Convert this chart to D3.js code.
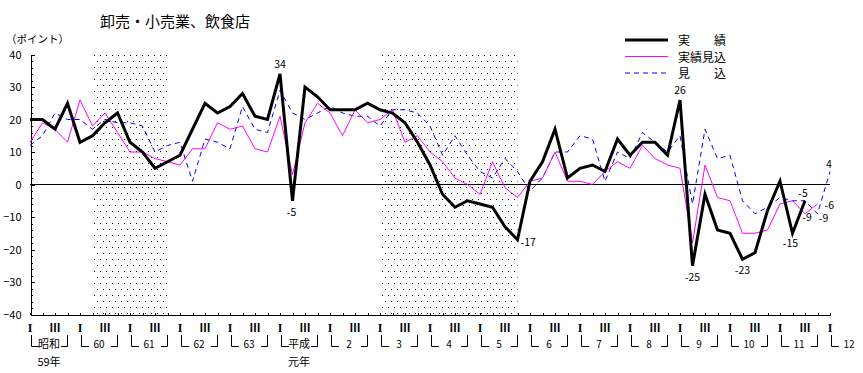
<!DOCTYPE html>
<meta charset="utf-8">
<body style="margin:0;background:#fff">
<script src="https://cdn.jsdelivr.net/npm/d3@7"></script>
<style>
svg { display:block; }
text { font-family: "Noto Sans CJK JP", "DejaVu Sans", sans-serif; fill:#000; }
.axis path, .axis line { stroke:#000; shape-rendering:crispEdges; }
</style>
<svg id="chart" width="863" height="373"></svg>
<script>
// quarterly DI, index 0 = 昭和59年 I期, 64 = 平成12年 I期
var yearLabels = ["昭和", "60", "61", "62", "63", "平成", "2", "3", "4", "5", "6", "7", "8", "9", "10", "11", "12"]
var yearSubLabels = ["59年", "", "", "", "", "元年"]
var yTicks = [40, 30, 20, 10, 0, -10, -20, -30, -40]

var jisseki = [20, 20, 17, 25, 13, 15, 19, 22, 13, 10, 5, 7, 9, 17, 25, 22,
  24, 28, 21, 20, 34, -5, 30, 27, 23, 23, 23, 25, 23, 22, 19, 13,
  6, -3, -7, -5, -6, -7, -13, -17, 1, 7, 17, 2, 5, 6, 4, 14,
  9, 13, 13, 9, 26, -25, -3, -14, -15, -23, -21, -8, 1, -15, -5]

var jissekiMikomi = [13, 19, 17, 13, 26, 18, 22, 16, 10, 10, 8, 7, 6, 11, 11, 19,
  17, 18, 11, 10, 21, 3, 19, 25, 22, 15, 23, 19, 20, 23, 13, 15,
  10, 7, 2, 0, -3, 7, -1, -4, 1, 2, 10, 1, 1, 0, 4, 7,
  5, 12, 8, 6, 5, -18, 6, -4, -5, -15, -15, -14, -6, -5, -9, -6]

var mikomi = [12, 15, 22, 20, 20, 17, 20, 19, 19, 18, 10, 12, 13, 1, 14, 13,
  11, 24, 17, 16, 29, 22, 20, 22, 24, 22, 21, 21, 18, 23, 23, 22,
  18, 9, 15, 9, 4, 2, 8, 4, -2, 2, 10, 10, 15, 14, 1, 10,
  8, 16, 13, 10, 15, -6, 17, 8, 9, -5, -9, -7, -4, -5, -5, -9, 4]

// shaded periods (quarter index from, to)
var shaded = [[5, 11], [28, 39]]

// value labels: series, quarter index
var valueLabels = [
  ["jisseki", 20], ["jisseki", 21], ["jisseki", 39], ["jisseki", 52],
  ["jisseki", 53], ["jisseki", 57], ["jisseki", 61], ["jisseki", 62],
  ["jissekiMikomi", 62], ["jissekiMikomi", 63],
  ["mikomi", 63], ["mikomi", 64]
]
// where each label sits next to its point: dx, dy, anchor
var labelOffsets = [
  [0, -6, "middle"], [-1, 15, "middle"], [3, 6, "start"], [0, -6, "middle"],
  [0, 15, "middle"], [0, 15, "middle"], [-2, 14, "middle"], [-2, -4, "middle"],
  [2, 7, "middle"], [7, 5, "start"],
  [6, 8, "middle"], [-1, -4, "middle"]
]

var seriesData = {jisseki: jisseki, jissekiMikomi: jissekiMikomi, mikomi: mikomi}

var svg = d3.select("#chart")
var x = d3.scaleLinear().domain([0, 64]).range([30, 830])
var y = d3.scaleLinear().domain([-40, 40]).range([314.5, 54.5])

// dotted shading pattern
var pat = svg.append("defs").append("pattern")
  .attr("id", "dots").attr("patternUnits", "userSpaceOnUse")
  .attr("width", 6).attr("height", 12)
pat.append("rect").attr("x", 1).attr("y", 1).attr("width", 1).attr("height", 1).attr("fill", "#000")
pat.append("rect").attr("x", 4).attr("y", 7).attr("width", 1).attr("height", 1).attr("fill", "#000")

svg.selectAll("rect.shade").data(shaded).enter().append("rect")
  .attr("class", "shade")
  .attr("x", function(d){ return x(d[0]) })
  .attr("width", function(d){ return x(d[1]) - x(d[0]) })
  .attr("y", y(40) - 1)
  .attr("height", y(-40) - y(40) + 1)
  .attr("fill", "url(#dots)")

// title
svg.append("text").attr("x", 175).attr("y", 27).attr("text-anchor", "middle")
  .style("font-size", "15px").text("卸売・小売業、飲食店")
svg.append("text").attr("x", 6).attr("y", 43)
  .style("font-size", "10.5px").text("（ポイント）")

// y axis
var yAxis = d3.axisLeft(y).tickValues(yTicks).tickSize(-4).tickPadding(9)
svg.append("g").attr("class", "axis").attr("transform", "translate(30.5,0)")
  .call(yAxis)
  .call(function(g){ g.selectAll("text").style("font-size", "11px").attr("font-family", "DejaVu Sans Mono") })
var yMinor = d3.axisLeft(y).tickValues(d3.range(-40, 41, 2)).tickSize(-2).tickFormat("")
svg.append("g").attr("class", "axis").attr("transform", "translate(30.5,0)")
  .call(yMinor).select(".domain").remove()

// x axis (bottom) with quarter ticks
var xAxis = d3.axisBottom(x).tickValues(d3.range(0, 65)).tickSize(-2).tickSizeOuter(0).tickFormat("")
svg.append("g").attr("class", "axis").attr("transform", "translate(0," + (y(-40)) + ")")
  .call(xAxis)

// zero line
svg.append("line").attr("x1", 30).attr("x2", 830)
  .attr("y1", y(0)).attr("y2", y(0))
  .attr("stroke", "#000").attr("stroke-width", 1).style("shape-rendering", "crispEdges")

// quarter labels I / III
var qLabels = []
d3.range(0, 65, 2).forEach(function(i){ qLabels.push({i: i, t: i % 4 == 0 ? "I" : "Ⅲ"}) })
svg.selectAll("text.q").data(qLabels).enter().append("text")
  .attr("class", "q").attr("x", function(d){ return x(d.i) }).attr("y", 332)
  .attr("text-anchor", "middle")
  .style("font-size", function(d){ return d.t == "I" ? "12px" : "11px" })
  .style("font-family", function(d){ return d.t == "I" ? "Liberation Serif" : null })
  .style("font-weight", "bold")
  .text(function(d){ return d.t })

// year brackets and labels
var yearG = svg.selectAll("g.year").data(yearLabels).enter().append("g")
  .attr("class", "year")
  .attr("transform", function(d, k){ return "translate(" + x(k * 4) + ",0)" })
yearG.append("path")
  .attr("d", "M1.5,335V346.5H9")
  .attr("fill", "none").attr("stroke", "#000")
yearG.filter(function(d, k){ return k < yearLabels.length - 1 }).append("path")
  .attr("d", "M31,346.5H37.5V335")
  .attr("fill", "none").attr("stroke", "#000")
yearG.append("text")
  .attr("x", 19)
  .attr("y", 348).attr("text-anchor", "middle")
  .style("font-size", function(d){ return isNaN(+d) ? "11px" : "10px" })
  .text(function(d){ return d })
yearG.append("text")
  .attr("x", 19).attr("y", 366).attr("text-anchor", "middle")
  .style("font-size", "11px")
  .text(function(d, k){ return yearSubLabels[k] || "" })

// series lines
var line = d3.line().x(function(d, i){ return x(i) }).y(function(d){ return y(d) })
svg.append("path").datum(mikomi).attr("d", line)
  .attr("fill", "none").attr("stroke", "#0000ff").attr("stroke-width", 1)
  .attr("stroke-dasharray", "5,4")
svg.append("path").datum(jissekiMikomi).attr("d", line)
  .attr("fill", "none").attr("stroke", "#ff00ff").attr("stroke-width", 1)
svg.append("path").datum(jisseki).attr("d", line)
  .attr("fill", "none").attr("stroke", "#000").attr("stroke-width", 3)
  .attr("stroke-linejoin", "miter")

// value labels
svg.selectAll("text.val").data(valueLabels).enter().append("text")
  .attr("class", "val")
  .attr("x", function(d, i){ return x(d[1]) + labelOffsets[i][0] })
  .attr("y", function(d, i){ return y(seriesData[d[0]][d[1]]) + labelOffsets[i][1] })
  .attr("text-anchor", function(d, i){ return labelOffsets[i][2] })
  .style("font-size", "10.5px")
  .text(function(d){ return seriesData[d[0]][d[1]] })

// legend
var legend = [
  {name: "実　　績", color: "#000", w: 3, dash: null},
  {name: "実績見込", color: "#ff00ff", w: 1, dash: null},
  {name: "見　　込", color: "#0000ff", w: 1, dash: "5,4"}
]
var lg = svg.selectAll("g.leg").data(legend).enter().append("g")
  .attr("class", "leg")
  .attr("transform", function(d, i){ return "translate(625," + (40 + i * 16.5) + ")" })
lg.append("line").attr("x1", 0).attr("x2", 43)
  .attr("stroke", function(d){ return d.color })
  .attr("stroke-width", function(d){ return d.w })
  .attr("stroke-dasharray", function(d){ return d.dash })
lg.append("text").attr("x", 53).attr("y", 5)
  .style("font-size", "12px").text(function(d){ return d.name })
</script>
</body>
